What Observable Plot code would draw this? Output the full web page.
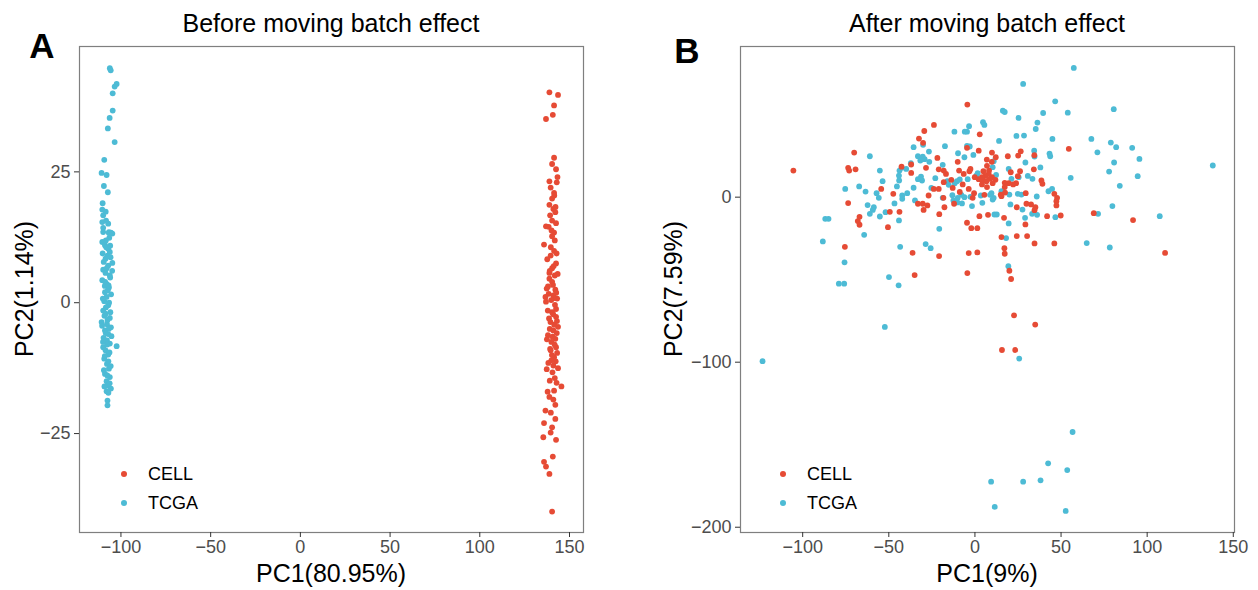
<!DOCTYPE html>
<html><head><meta charset="utf-8">
<script src="https://cdn.jsdelivr.net/npm/d3@7"></script>
<script src="https://cdn.jsdelivr.net/npm/@observablehq/plot@0.6"></script>
<style>
body{margin:0;background:#fff;font-family:"Liberation Sans",Arial,Helvetica,sans-serif;}
#wrap{position:relative;width:1258px;height:590px;overflow:hidden}
.panel{position:absolute;top:0;width:629px;height:590px}
.panel svg{position:absolute;left:0;top:0}
.t{position:absolute;white-space:nowrap;color:#000;line-height:1;transform:translate(-50%,-50%)}
.title{font-size:25px}
.axt{font-size:25px}
.letter{font-size:35px;font-weight:bold}
.lg{position:absolute;white-space:nowrap;font-size:18px;line-height:1;transform:translateY(-50%);color:#000}
.sw{position:absolute;width:6px;height:6px;border-radius:50%;transform:translate(-50%,-50%)}
</style></head>
<body><div id="wrap"></div>
<script>
// ---- data ----
const groups = ["CELL", "TCGA"];
const groupColors = ["#E64B35", "#4DBBD5"];
const xTicks = [-100, -50, 0, 50, 100, 150];
const yTicksBefore = [-25, 0, 25];
const yTicksAfter = [-200, -100, 0];
const titles = ["Before moving batch effect", "After moving batch effect"];
const xLabels = ["PC1(80.95%)", "PC1(9%)"];
const yLabels = ["PC2(1.14%)", "PC2(7.59%)"];
const panelLetters = ["A", "B"];

const beforeTcga = [
[-106.2,44.8],[-105.7,44.4],[-102.4,41.8],[-103.5,41.3],[-104.6,40.0],[-104.6,36.7],[-106.3,35.3],[-107.3,33.3],[-103.5,30.7],[-109.3,27.3],[-110.8,24.8],[-108.0,24.4],[-109.5,22.3],[-107.3,21.1],[-110.2,19.0],[-110.4,17.8],[-108.5,17.4],[-109.9,16.7],[-108.3,15.7],[-110.4,15.4],[-107.1,15.1],[-109.9,14.3],[-106.7,13.5],[-105.6,13.4],
[-109.9,13.5],[-106.7,13.3],[-104.8,13.2],[-110.4,11.6],[-108.9,11.0],[-107.1,10.3],[-106.2,9.7],[-107.5,9.0],[-108.6,8.4],[-104.8,7.6],[-107.1,7.1],[-109.9,6.3],[-108.6,5.7],[-106.2,5.2],[-110.4,4.3],[-108.0,3.6],[-106.7,2.9],[-108.9,2.0],[-108.0,1.1],[-109.3,0.3],[-107.1,-0.5],[-109.9,-1.5],[-108.6,-2.1],[-106.2,-2.9],[-110.8,-3.7],[-107.8,-4.1],[-105.6,-4.7],[-108.9,-5.3],[-107.1,-6.0],[-109.7,-6.7],[-107.8,-7.2],[-106.2,-7.8],[-109.9,-8.5],[-102.4,-8.3],[-108.6,-9.1],[-107.1,-9.9],[-109.3,-10.7],[-107.8,-11.7],[-106.7,-12.6],[-108.9,-13.6],[-106.2,-14.2],[-108.0,-15.0],[-107.1,-15.8],[-105.6,-16.4],[-108.0,-16.9],[-107.5,-18.7],[-107.5,-19.6],
[-106.5,12.4],[-108.2,10.6],[-105.8,8.7],[-109.6,7.8],[-107.9,6.6],[-106.0,4.8],[-109.0,3.2],[-107.3,2.4],[-105.5,1.6],[-110.1,0.8],[-106.6,0.0],[-108.4,-0.9],[-105.9,-1.8],[-109.2,-2.5],[-107.5,-3.3],[-110.5,-4.4],[-106.8,-5.0],[-108.5,-5.8],[-105.3,-6.4],[-110.0,-7.5],[-107.7,-8.0],[-106.4,-9.5],[-109.0,-10.2],[-107.0,-11.2],[-105.7,-12.1],[-109.5,-12.9],[-107.6,-13.9],[-106.3,-15.4],[-109.2,-16.0],[-107.0,-17.2],[-108.4,11.9],[-106.0,10.9],[-110.2,9.4],[-104.9,6.1],[-108.8,4.0],[-106.9,3.3]
];
const beforeCell = [
[138.8,40.2],[143.6,39.7],[141.4,37.7],[140.7,35.9],[136.9,35.1],[141.4,27.7],[140.3,26.5],[142.5,25.5],[143.3,24.0],[138.8,23.2],[142.9,23.0],[141.4,21.0],[140.3,19.9],[138.8,18.7],[141.0,17.9],[142.1,17.3],[139.2,16.7],[140.3,15.7],[142.5,15.2],[136.9,14.6],[138.4,14.5],[141.4,13.4],[140.3,12.7],[135.8,11.1],[141.8,11.9],[141.4,9.9],[139.5,9.0],[142.5,7.5],[140.3,6.6],[138.8,5.7],[141.8,5.2],[138.8,4.6],[140.3,4.0],[137.3,2.7],[142.1,2.5],[138.4,1.7],[141.0,1.4],[136.6,1.1],[143.1,0.8],
[136.9,0.2],[141.4,0.9],[142.5,-1.2],[140.3,-1.8],[142.5,-2.7],[139.4,-3.7],[143.6,-4.6],[141.0,-5.3],[138.0,-6.2],[142.1,-6.9],[139.9,-7.5],[142.5,-8.5],[139.5,-9.1],[141.4,-10.4],[139.9,-11.0],[137.3,-12.7],[143.6,-12.5],[141.0,-12.0],[141.8,-14.4],[145.5,-16.0],[141.4,-16.8],[138.8,-18.0],[142.1,-19.5],[136.6,-20.6],[142.1,-22.2],[135.8,-23.0],[140.3,-23.8],[139.5,-24.8],[135.4,-25.7],[142.5,-26.2],[140.7,-29.4],[135.8,-30.4],[136.9,-31.3],[138.8,-32.7],[140.3,-39.9],
[139.6,10.6],[142.8,9.4],[137.6,8.3],[141.2,7.0],[139.0,6.1],[143.4,5.5],[140.8,3.4],[138.0,3.1],[142.6,1.9],[139.8,0.5],[141.9,-0.4],[137.9,-1.5],[140.9,-2.2],[138.6,-3.0],[143.0,-3.5],[141.5,-4.2],[139.0,-5.0],[142.9,-5.8],[140.6,-6.5],[137.4,-7.0],[141.7,-8.0],[139.2,-8.8],[143.1,-9.6],[140.2,-10.0],[138.2,-11.5],[142.3,-11.2],[140.5,-13.3],[139.0,-14.9],[142.8,-15.3],[137.8,-17.0],[141.0,-18.5],[139.6,-21.0],[141.5,20.5],[139.5,22.0],[142.2,18.3],[140.0,13.8]
];
const afterCell = [
[-105.4,16.1],[-70.1,27.0],[-73.6,17.8],[-73.0,16.1],[-69.3,16.9],[-54.4,5.0],[-47.4,2.0],[-73.6,-3.6],[-67.0,-11.9],[-68.0,-14.5],[-67.0,-16.7],[-49.4,-8.9],[-43.8,-8.9],[-50.5,-18.2],[-75.5,-30.1],[-36.2,-33.7],[-35.0,-47.2],[-32.5,35.5],[-42.6,18.5],[-37.0,19.8],[-37.0,14.7],[-33.1,-4.0],
[-4.4,56.1],[-23.8,43.8],[-29.4,40.1],[-30.1,32.9],[2.8,38.1],[2.2,28.2],[-4.6,29.9],[6.9,22.8],[9.9,27.0],[12.1,24.2],[9.8,21.4],[7.0,19.0],[4.9,15.7],[8.2,16.1],[19.1,24.8],[25.1,25.2],[26.6,27.8],[34.5,25.4],[34.2,16.9],[38.6,10.1],[39.2,8.1],[26.2,15.7],[24.9,12.7],[23.9,8.5],[20.8,15.1],[19.6,8.5],[17.3,8.7],[17.3,6.1],[11.9,10.5],[9.9,12.1],[8.0,14.1],[6.1,12.9],[4.1,12.1],[2.2,10.9],[4.5,10.1],[6.7,9.7],[8.6,11.1],[4.1,7.7],[7.0,6.1],[10.3,8.5],[-0.1,12.1],[-2.6,17.1],[-3.2,15.7],[-9.2,16.1],[-6.5,14.1],[-10.0,21.4],[-16.8,14.1],[-18.1,16.1],[-21.0,16.9],[-21.8,23.8],[-28.4,17.8],[-13.7,10.5],[-12.9,5.6],[-7.1,7.7],[-8.8,3.2],[-3.6,5.0],[-0.5,2.4],[-1.3,-0.4],[-18.1,9.1],[-23.9,5.0],[-21.0,5.0],[-26.9,1.0],[-18.3,-0.4],[-17.7,-6.1],[-12.1,-4.0],[-30.3,-4.0],[-29.8,-7.7],[-20.7,-10.3],[-4.6,-15.5],[-2.1,-18.8],[1.4,-18.8],[2.6,-11.5],[7.6,-10.7],[5.5,1.4],[15.0,1.6],[15.4,0.6],[17.5,2.8],[16.9,-12.5],[15.4,-24.2],[17.1,-30.9],[17.3,-34.3],[20.0,-44.6],[21.0,-49.6],[22.2,7.7],[29.5,2.4],[24.3,-6.1],[29.9,-4.0],[32.6,-4.4],[35.1,-6.1],[34.6,-7.9],[29.3,-16.5],[24.3,-23.6],[30.3,-23.6],[34.6,-28.0],[41.9,-11.5],[-3.6,-33.9],[1.4,-33.5],[-4.4,-46.0],[-20.8,-35.7],[-27.6,-5.0],
[54.5,29.3],[46.1,2.0],[47.7,-0.4],[47.3,-2.4],[47.3,-5.0],[49.8,-11.1],[69.0,-9.7],[91.8,-13.9],[46.1,-28.0],[110.4,-33.8],
[22.7,-71.6],[35.0,-77.2],[15.7,-92.6],[23.4,-92.6]
];
const afterTcga = [
[-61.0,24.8],[-55.2,16.1],[-53.6,9.7],[-75.3,5.0],[-67.2,6.5],[-63.5,3.4],[-57.1,2.4],[-55.8,-0.4],[-62.3,-4.8],[-58.7,-6.1],[-59.3,-7.7],[-61.0,-10.1],[-55.2,-11.7],[-51.9,-9.1],[-46.7,-3.8],[-45.3,6.5],[-44.1,13.1],[-43.8,16.1],[-42.6,17.8],[-44.0,10.1],[-42.2,1.0],[-42.2,-1.0],[-39.3,2.4],[-35.6,5.7],[-35.6,30.3],[-37.2,20.6],[-33.1,24.8],[-34.8,-2.0],[-44.1,-14.1],[-86.9,-13.1],[-85.0,-13.1],[-88.3,-26.8],[-64.3,-22.8],[-43.4,-30.1],[-75.7,-39.5],[-79.0,-52.4],[-75.9,-52.4],[-49.9,-48.4],[-44.3,-53.4],[-39.9,17.1],
[28.0,68.6],[16.2,52.4],[17.3,51.6],[39.6,51.0],[25.3,48.0],[36.3,45.2],[35.3,41.3],[46.6,58.1],[4.7,45.4],[5.5,43.8],[-3.4,43.0],[-4.6,39.7],[-11.9,39.7],[-5.9,39.7],[14.0,34.1],[24.1,37.1],[28.5,37.3],[45.0,35.3],[-4.6,31.1],[-3.0,30.7],[-17.4,30.9],[-0.9,25.6],[-9.8,26.6],[-6.1,24.2],[10.9,21.8],[10.3,18.2],[29.3,21.0],[34.4,28.2],[34.6,24.6],[38.0,18.0],[43.3,26.4],[43.7,24.8],[42.7,3.6],[44.8,5.0],[19.6,17.1],[21.2,11.1],[25.4,12.1],[30.7,12.9],[33.4,11.1],[1.6,14.5],[0.8,13.1],[-4.2,10.9],[-8.8,10.7],[-10.4,9.7],[-11.7,8.5],[-16.0,9.7],[-15.2,7.5],[-18.7,19.6],[-26.5,21.4],[-29.2,23.0],[-26.7,27.6],[-30.3,24.6],[-31.7,22.2],[-30.1,31.7],[-31.3,12.5],[-30.7,10.1],[-33.1,10.9],[-23.0,11.5],[-25.3,5.6],[-18.7,-0.4],[-13.1,1.2],[-10.0,-0.4],[-7.9,1.4],[-6.1,0.0],[-2.6,0.2],[3.4,1.0],[8.8,1.4],[10.9,-0.4],[15.4,3.6],[20.0,1.6],[24.9,2.0],[27.0,1.6],[35.9,0.4],[12.3,13.5],[9.6,2.4],[4.3,-3.4],[10.3,-1.4],[-1.7,-5.4],[-10.2,-3.2],[-12.5,-2.0],[-7.5,-3.8],[11.3,-10.5],[12.7,-10.5],[20.6,-4.4],[27.6,-7.5],[29.1,-12.5],[33.2,-10.1],[36.1,-10.7],[19.6,-15.9],[18.1,-24.8],[19.4,-41.8],[-20.7,-19.2],[-28.6,-28.4],[-25.7,-30.9],
[57.4,78.3],[53.9,51.2],[80.6,53.3],[67.6,35.3],[78.9,33.1],[82.0,30.3],[91.3,29.9],[71.1,27.2],[95.5,23.2],[80.8,21.0],[77.9,15.5],[94.5,12.7],[55.6,11.7],[138.1,19.2],[84.1,6.9],[79.8,-5.4],[71.5,-10.1],[46.7,-12.1],[107.3,-11.5],[64.9,-27.8],[78.3,-30.5],
[25.7,-97.8],[-52.3,-78.6],[-123.3,-99.4],[56.7,-142.3],[42.5,-161.3],[53.6,-165.4],[9.4,-172.4],[28.0,-172.4],[38.1,-171.6],[11.5,-187.7],[52.7,-190.1]
];

// ---- helpers ----
const fmt = d => (d < 0 ? "\u2212" : "") + Math.abs(d);
function rows(cell, tcga) {
  return [...tcga.map(([x, y]) => ({x, y, group: "TCGA"})), ...cell.map(([x, y]) => ({x, y, group: "CELL"}))];
}
function makePlot(data, cfg) {
  return Plot.plot({
    width: 629, height: 590,
    marginLeft: cfg.ml, marginRight: cfg.mr, marginTop: 46, marginBottom: 58,
    style: {fontFamily: '"Liberation Sans", Arial, Helvetica, sans-serif', fontSize: "18px", background: "transparent", overflow: "visible"},
    x: {domain: cfg.xd},
    y: {domain: cfg.yd},
    color: {domain: groups, range: groupColors},
    marks: [
      Plot.frame({stroke: "#7f7f7f", strokeWidth: 1.2}),
      Plot.dot(data, {x: "x", y: "y", fill: "group", r: 2.9, stroke: null}),
      Plot.axisX({ticks: xTicks, tickFormat: fmt, tickSize: 5, tickPadding: 3, label: null, fill: "#4d4d4d", stroke: "#333", fontSize: 18}),
      Plot.axisY({ticks: cfg.yt, tickFormat: fmt, tickSize: 5, tickPadding: 4, label: null, fill: "#4d4d4d", stroke: "#333", fontSize: 18})
    ]
  });
}
function addText(parent, text, cls, x, y, rot) {
  const d = document.createElement("div");
  d.className = "t " + cls;
  d.textContent = text;
  d.style.left = x + "px"; d.style.top = y + "px";
  if (rot) d.style.transform = "translate(-50%,-50%) rotate(-90deg)";
  parent.appendChild(d);
}
function addLegend(parent, x, y0, gap) {
  groups.forEach((g, i) => {
    const s = document.createElement("div");
    s.className = "sw"; s.style.background = groupColors[i];
    s.style.left = x + "px"; s.style.top = (y0 + i * gap) + "px";
    parent.appendChild(s);
    const t = document.createElement("div");
    t.className = "lg"; t.textContent = g;
    t.style.left = (x + 24) + "px"; t.style.top = (y0 + i * gap) + "px";
    parent.appendChild(t);
  });
}

const wrap = document.getElementById("wrap");
const cfgs = [
  {ml: 79, mr: 46, xd: [-123.1, 157.8], yd: [-43.9, 48.95], yt: yTicksBefore, cx: 331, ylx: 24, lx: 42, ly: 45, legx: 124},
  {ml: 111, mr: 24, xd: [-136.1, 150.7], yd: [-203.2, 91.3], yt: yTicksAfter, cx: 358, ylx: 44, lx: 58, ly: 50, legx: 154}
];
const datas = [rows(beforeCell, beforeTcga), rows(afterCell, afterTcga)];
cfgs.forEach((cfg, i) => {
  const p = document.createElement("div");
  p.className = "panel"; p.style.left = (i * 629) + "px";
  wrap.appendChild(p);
  p.appendChild(makePlot(datas[i], cfg));
  addText(p, titles[i], "title", cfg.cx, 23);
  addText(p, xLabels[i], "axt", cfg.cx, 573);
  addText(p, yLabels[i], "axt", cfg.ylx, 289, true);
  addText(p, panelLetters[i], "letter", cfg.lx, cfg.ly);
  addLegend(p, cfg.legx, 474, 29);
});
</script>
</body></html>
